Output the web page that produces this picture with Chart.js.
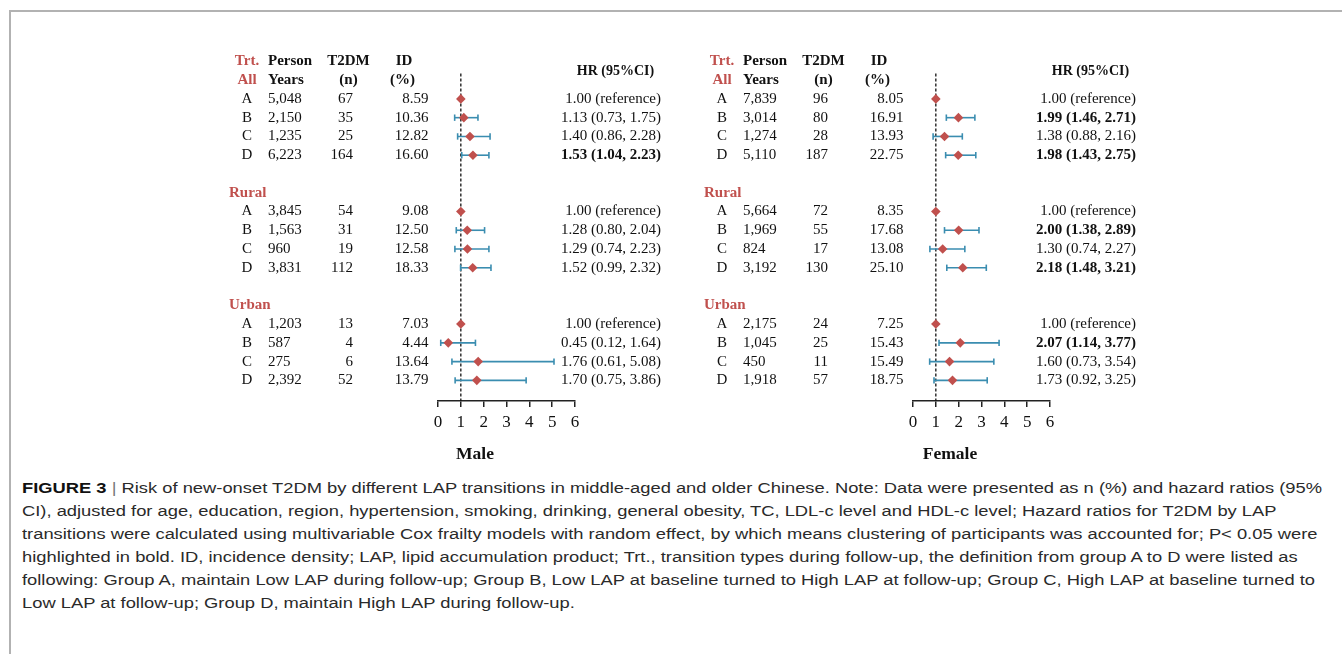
<!DOCTYPE html>
<html>
<head>
<meta charset="utf-8">
<script src="https://cdn.jsdelivr.net/npm/chart.js@4.4.0/dist/chart.umd.min.js"></script>
<style>
html, body { margin: 0; padding: 0; background: #fff; }
body { width: 1342px; height: 654px; position: relative; overflow: hidden; }
#frame { position: absolute; left: 9px; top: 10px; right: -5px; bottom: -5px;
  border-top: 2px solid #b2b2b2; border-left: 2px solid #b2b2b2; }
.panel { position: absolute; top: 0; width: 470px; height: 470px; }
#malePanel { left: 220px; }
#femalePanel { left: 695px; }
#caption { position: absolute; left: 22px; top: 476px; color: #2a2a2a;
  font-family: "Liberation Sans", Arial, sans-serif; font-size: 15.5px; }
#caption .line { white-space: nowrap; height: 23px; line-height: 23px; transform-origin: 0 50%; }
#caption b { color: #111; }
#caption .sep { color: #777; }
</style>
</head>
<body>
<div id="frame"></div>
<div class="panel" id="malePanel"><canvas id="maleChart"></canvas></div>
<div class="panel" id="femalePanel"><canvas id="femaleChart"></canvas></div>
<div id="caption">
  <div class="line"><b>FIGURE 3</b> <span class="sep">|</span> Risk of new-onset T2DM by different LAP transitions in middle-aged and older Chinese. Note: Data were presented as n (%) and hazard ratios (95%</div>
  <div class="line">CI), adjusted for age, education, region, hypertension, smoking, drinking, general obesity, TC, LDL-c level and HDL-c level; Hazard ratios for T2DM by LAP</div>
  <div class="line">transitions were calculated using multivariable Cox frailty models with random effect, by which means clustering of participants was accounted for; P&lt; 0.05 were</div>
  <div class="line">highlighted in bold. ID, incidence density; LAP, lipid accumulation product; Trt., transition types during follow-up, the definition from group A to D were listed as</div>
  <div class="line">following: Group A, maintain Low LAP during follow-up; Group B, Low LAP at baseline turned to High LAP at follow-up; Group C, High LAP at baseline turned to</div>
  <div class="line">Low LAP at follow-up; Group D, maintain High LAP during follow-up.</div>
</div>
<script>
// rows are All A-D, Rural A-D, Urban A-D
const trtLabels = ['A', 'B', 'C', 'D'];
const groupLabels = ['All', 'Rural', 'Urban'];
const xTicks = [0, 1, 2, 3, 4, 5, 6];

const malePersonYears = [5048, 2150, 1235, 6223, 3845, 1563, 960, 3831, 1203, 587, 275, 2392];
const maleCases = [67, 35, 25, 164, 54, 31, 19, 112, 13, 4, 6, 52];
const maleID = [8.59, 10.36, 12.82, 16.60, 9.08, 12.50, 12.58, 18.33, 7.03, 4.44, 13.64, 13.79];
const maleHR = [1.00, 1.13, 1.40, 1.53, 1.00, 1.28, 1.29, 1.52, 1.00, 0.45, 1.76, 1.70];
const maleLower = [null, 0.73, 0.86, 1.04, null, 0.80, 0.74, 0.99, null, 0.12, 0.61, 0.75];
const maleUpper = [null, 1.75, 2.28, 2.23, null, 2.04, 2.23, 2.32, null, 1.64, 5.08, 3.86];

const femalePersonYears = [7839, 3014, 1274, 5110, 5664, 1969, 824, 3192, 2175, 1045, 450, 1918];
const femaleCases = [96, 80, 28, 187, 72, 55, 17, 130, 24, 25, 11, 57];
const femaleID = [8.05, 16.91, 13.93, 22.75, 8.35, 17.68, 13.08, 25.10, 7.25, 15.43, 15.49, 18.75];
const femaleHR = [1.00, 1.99, 1.38, 1.98, 1.00, 2.00, 1.30, 2.18, 1.00, 2.07, 1.60, 1.73];
const femaleLower = [null, 1.46, 0.88, 1.43, null, 1.38, 0.74, 1.48, null, 1.14, 0.73, 0.92];
const femaleUpper = [null, 2.71, 2.16, 2.75, null, 2.89, 2.27, 3.21, null, 3.77, 3.54, 3.25];

const RED = '#c0504d';
const BAR = '#3a8db0';
const SERIF = '"Liberation Serif", "Times New Roman", serif';

// row index on the y scale: group headers sit one row above each block
const rowOf = k => Math.floor(k / 4) * 6 + (k % 4);

function hrText(k, d) {
    if (d.lower[k] === null) return '1.00 (reference)';
    return `${d.hr[k].toFixed(2)} (${d.lower[k].toFixed(2)}, ${d.upper[k].toFixed(2)})`;
}

// table text drawn next to the plot, aligned with the y scale rows
const tablePlugin = {
    id: 'forestTable',
    afterDraw(chart) {
        const d = chart.config.options.plugins.forestTable;
        const ctx = chart.ctx;
        const y = v => chart.scales.y.getPixelForValue(v);
        const x0 = chart.chartArea.left;
        const txt = (s, x, yy, align, font, color) => {
            ctx.font = font;
            ctx.fillStyle = color || '#111';
            ctx.textAlign = align;
            ctx.textBaseline = 'middle';
            ctx.fillText(s, x, yy);
        };
        const bold = 'bold 15px ' + SERIF;
        const norm = '15px ' + SERIF;
        ctx.save();
        // header
        txt('Trt.', x0 - 191, y(-2), 'center', bold, RED);
        txt('Person', x0 - 170, y(-2), 'left', bold);
        txt('T2DM', x0 - 89.5, y(-2), 'center', bold);
        txt('ID', x0 - 34, y(-2), 'center', bold);
        txt('Years', x0 - 170, y(-1), 'left', bold);
        txt('(n)', x0 - 89.5, y(-1), 'center', bold);
        txt('(%)', x0 - 35.5, y(-1), 'center', bold);
        txt('HR (95%CI)', x0 + 177.5, y(-1.45), 'center', 'bold 14px ' + SERIF);
        groupLabels.forEach((g, gi) => {
            if (gi === 0) txt(g, x0 - 191, y(-1), 'center', bold, RED);
            else txt(g, x0 - 209, y(gi * 6 - 1), 'left', bold, RED);
        });
        d.hr.forEach((v, k) => {
            const yy = y(rowOf(k));
            txt(trtLabels[k % 4], x0 - 191, yy, 'center', norm);
            txt(d.py[k].toLocaleString('en-US'), x0 - 170, yy, 'left', norm);
            txt(String(d.cases[k]), x0 - 85, yy, 'right', norm);
            txt(d.id[k].toFixed(2), x0 - 9.5, yy, 'right', norm);
            const sig = d.lower[k] !== null && (d.lower[k] > 1 || d.upper[k] < 1);
            txt(hrText(k, d), x0 + 223, yy, 'right', sig ? bold : norm);
        });
        txt(d.title, x0 + 37, 454, 'center', 'bold 17.5px ' + SERIF);
        ctx.restore();
    }
};

function buildForest(canvasId, d) {
    const datasets = [];
    datasets.push({
        data: d.hr.map((v, k) => ({ x: v, y: rowOf(k) })),
        pointStyle: 'rectRot',
        pointRadius: 4.8,
        backgroundColor: RED,
        borderColor: RED,
        borderWidth: 0,
        order: 0
    });
    d.hr.forEach((v, k) => {
        if (d.lower[k] === null) return;
        datasets.push({
            data: [{ x: d.lower[k], y: rowOf(k) }, { x: d.upper[k], y: rowOf(k) }],
            showLine: true,
            borderColor: BAR,
            borderWidth: 1.6,
            pointStyle: 'line',
            rotation: 90,
            pointRadius: 3.2,
            pointBorderWidth: 1.6,
            pointBorderColor: BAR,
            order: 1
        });
    });
    // reference line at HR = 1
    datasets.push({
        data: [{ x: 1, y: -1.35 }, { x: 1, y: 16.1 }],
        showLine: true,
        borderColor: '#111',
        borderWidth: 1.3,
        borderDash: [3, 2],
        pointRadius: 0,
        order: 2
    });

    new Chart(document.getElementById(canvasId), {
        type: 'scatter',
        data: { datasets: datasets },
        plugins: [tablePlugin],
        options: {
            responsive: true,
            maintainAspectRatio: false,
            animation: false,
            layout: { padding: { left: 218, right: 115, top: 52, bottom: 29 } },
            plugins: {
                legend: { display: false },
                tooltip: { enabled: false },
                forestTable: d
            },
            scales: {
                x: {
                    type: 'linear',
                    min: 0,
                    max: 6,
                    afterBuildTicks: s => { s.ticks = xTicks.map(v => ({ value: v })); },
                    afterFit: s => { s.height = 40; s.paddingLeft = 0; s.paddingRight = 0; },
                    border: { display: true, color: '#222', width: 1.5 },
                    grid: { drawOnChartArea: false, drawTicks: true, tickLength: 6, color: '#222', lineWidth: 1.5 },
                    ticks: { color: '#111', padding: 5, font: { family: SERIF, size: 17 } }
                },
                y: {
                    type: 'linear',
                    display: false,
                    reverse: true,
                    min: -2.5,
                    max: 16.1
                }
            }
        }
    });
}

buildForest('maleChart', {
    title: 'Male', py: malePersonYears, cases: maleCases, id: maleID,
    hr: maleHR, lower: maleLower, upper: maleUpper
});
buildForest('femaleChart', {
    title: 'Female', py: femalePersonYears, cases: femaleCases, id: femaleID,
    hr: femaleHR, lower: femaleLower, upper: femaleUpper
});

// fit caption lines to the reference width
const lines = document.querySelectorAll('#caption .line');
const scale = 1300 / lines[0].scrollWidth;
lines.forEach(l => { l.style.transform = `scaleX(${scale})`; });
</script>
</body>
</html>
